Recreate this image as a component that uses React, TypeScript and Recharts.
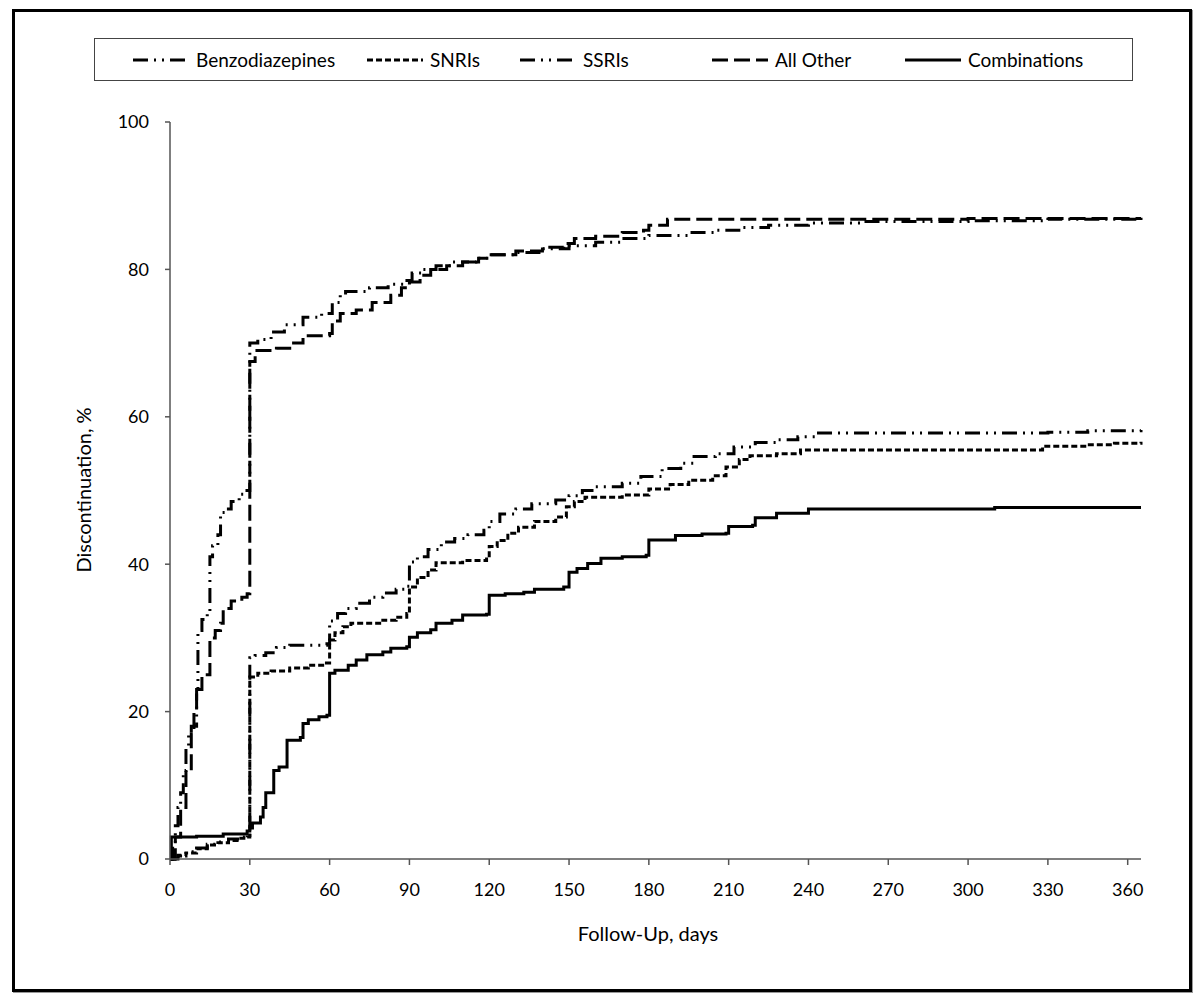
import React from "react";
import { LineChart, Line, XAxis, YAxis } from "recharts";

// follow-up days on x, % discontinued on y
const dayTicks = [0, 30, 60, 90, 120, 150, 180, 210, 240, 270, 300, 330, 360];
const pctTicks = [0, 20, 40, 60, 80, 100];

const benzodiazepines: [number, number][] = [
  [0, 0], [1, 2], [2, 4.5], [3, 7], [4, 9], [5, 12], [6, 15], [7, 17], [8, 18],
  [10, 23], [10.5, 31], [12, 32.5], [14, 33.5], [15, 41], [16, 42.5], [18, 44],
  [19, 47], [21, 47.5], [23, 48.5], [26, 49.5], [28, 50], [30, 70], [33, 70.5],
  [38, 71.5], [43, 72.5], [50, 73.5], [57, 74], [61, 75.5], [64, 76.5], [66, 77],
  [75, 77.5], [82, 78], [88, 78.5], [91, 79.5], [95, 80], [100, 80.5], [106, 81],
  [115, 81.5], [120, 82], [130, 82.3], [140, 82.8], [150, 83.2], [160, 83.7],
  [170, 84.2], [180, 84.6], [195, 85], [205, 85.3], [215, 85.7], [225, 86],
  [240, 86.3], [260, 86.5], [300, 86.6], [330, 86.8], [365, 86.9],
];

const snris: [number, number][] = [
  [0, 0], [3, 0.4], [6, 0.8], [10, 1.4], [14, 1.9], [18, 2.2], [22, 2.5], [26, 2.8],
  [29, 3], [30, 24.7], [33, 25.2], [38, 25.5], [45, 25.9], [52, 26.3], [58, 26.6],
  [60, 29.7], [62, 30.7], [65, 31.5], [68, 32], [80, 32.4], [85, 32.8], [89, 33.3],
  [90, 36.9], [93, 38.2], [97, 39.2], [100, 40.2], [110, 40.5], [119, 40.7],
  [120, 42.4], [123, 43.2], [127, 44.2], [131, 45], [137, 45.8], [145, 46.4],
  [149, 47.8], [152, 48.5], [156, 49.1], [170, 49.4], [180, 50.2], [188, 50.8],
  [195, 51.4], [204, 52], [209, 53.2], [214, 54.2], [218, 54.7], [228, 55],
  [237, 55.5], [326, 55.5], [328, 56], [345, 56.2], [355, 56.4], [365, 56.6],
];

const ssris: [number, number][] = [
  [0, 0], [3, 0.5], [6, 1], [10, 1.5], [14, 2], [18, 2.3], [22, 2.7], [26, 3],
  [29, 3.2], [30, 27.3], [32, 27.6], [36, 28], [40, 28.7], [45, 29], [59, 29.2],
  [60, 32.3], [63, 33.3], [66, 34], [70, 34.7], [75, 35.5], [80, 36.1], [85, 36.6],
  [89, 37], [90, 40.3], [93, 41], [97, 42], [102, 43], [107, 43.5], [112, 44],
  [118, 44.6], [120, 45.8], [124, 46.8], [130, 47.5], [136, 48.2], [145, 48.7],
  [150, 49.3], [155, 50], [160, 50.5], [170, 51], [177, 51.9], [185, 53],
  [192, 53.7], [197, 54.6], [205, 55], [212, 55.9], [220, 56.5], [228, 56.9],
  [236, 57.3], [243, 57.8], [330, 57.9], [345, 58.1], [365, 58.3],
];

const allOther: [number, number][] = [
  [0, 0], [2, 3], [4, 7], [6, 12], [8, 17], [9, 20], [10, 23], [12, 24.5], [14, 25],
  [15, 30], [17, 31], [19, 32], [20, 34], [23, 35], [27, 35.5], [29, 36], [30, 67.5],
  [32, 69], [40, 69.3], [45, 70], [50, 71], [60, 71.3], [61, 73], [64, 74], [70, 74.5],
  [76, 75.5], [83, 76.5], [87, 77.5], [90, 78.3], [94, 79.2], [98, 80], [104, 80.5],
  [110, 81], [116, 81.5], [120, 82], [130, 82.5], [140, 83], [148, 83.5], [152, 84.2],
  [160, 84.5], [170, 85], [178, 85.3], [180, 86], [187, 86.8], [250, 86.8],
  [300, 86.9], [365, 87],
];

const combinations: [number, number][] = [
  [0, 0], [0.5, 3], [10, 3.1], [20, 3.4], [29, 3.8], [30, 4.2], [31, 4.9], [34, 5.7],
  [35, 7], [36, 9], [39, 12], [41, 12.5], [44, 16.1], [49, 16.5], [50, 18.4],
  [52, 18.9], [56, 19.3], [59, 19.5], [60, 25.2], [62, 25.6], [67, 26.3], [70, 27],
  [74, 27.7], [80, 28.1], [83, 28.6], [89, 28.8], [90, 30.1], [93, 30.7], [98, 31.1],
  [100, 32], [106, 32.4], [110, 33.1], [119, 33.2], [120, 35.8], [126, 36],
  [133, 36.2], [137, 36.6], [148, 36.9], [150, 38.9], [153, 39.4], [157, 40.1],
  [162, 40.8], [170, 41], [179, 41.2], [180, 43.3], [190, 43.9], [200, 44.1],
  [209, 44.2], [210, 45.1], [219, 45.3], [220, 46.3], [228, 46.9], [240, 47.5],
  [310, 47.7], [365, 47.7],
];

const toPoints = (rows: [number, number][]) => rows.map(([day, pct]) => ({ day, pct }));

const DASH_DOT_DOT = "15 6 2 6 2 6";

const series = [
  { name: "Benzodiazepines", rows: benzodiazepines, dash: DASH_DOT_DOT },
  { name: "SNRIs", rows: snris, dash: "6 3" },
  { name: "SSRIs", rows: ssris, dash: DASH_DOT_DOT },
  { name: "All Other", rows: allOther, dash: "16 6" },
  { name: "Combinations", rows: combinations, dash: undefined },
];

// left edge of each legend sample, page px
const legendX = [133, 367, 520, 712, 905];

const FONT = "Lato, 'Open Sans', sans-serif";
const axisStroke = { stroke: "#555", strokeWidth: 1.5 };

export default function App() {
  return (
    <div style={{ position: "absolute", left: 0, top: 0, width: 1200, height: 1000, background: "#fff", fontFamily: FONT }}>
      <LineChart width={1200} height={1000} margin={{ top: 122, right: 59, bottom: 81, left: 110 }}>
        <XAxis
          type="number"
          dataKey="day"
          domain={[0, 365]}
          ticks={dayTicks}
          allowDuplicatedCategory={false}
          height={60}
          tickSize={6}
          tickMargin={18}
          axisLine={axisStroke}
          tickLine={axisStroke}
          tick={{ fill: "#000", fontSize: 18, fontFamily: FONT }}
        />
        <YAxis
          type="number"
          domain={[0, 100]}
          ticks={pctTicks}
          width={60}
          tickSize={5}
          tickMargin={16}
          axisLine={axisStroke}
          tickLine={axisStroke}
          tick={{ fill: "#000", fontSize: 18, fontFamily: FONT }}
        />
        {series.map((s) => (
          <Line
            key={s.name}
            data={toPoints(s.rows)}
            dataKey="pct"
            name={s.name}
            type="stepAfter"
            stroke="#000"
            strokeWidth={3}
            strokeDasharray={s.dash}
            dot={false}
            isAnimationActive={false}
          />
        ))}
      </LineChart>

      {/* outer frame */}
      <div style={{ position: "absolute", left: 12, top: 9, width: 1180, height: 983, border: "3px solid #000", boxSizing: "border-box", boxShadow: "1px 1px 0 #999" }} />

      {/* legend */}
      <div style={{ position: "absolute", left: 94, top: 38, width: 1039, height: 43, border: "1px solid #444", boxSizing: "border-box", background: "#fff" }}>
        {series.map((s, i) => (
          <div key={s.name} style={{ position: "absolute", left: legendX[i] - 95, top: 0, height: 41, display: "flex", alignItems: "center" }}>
            <svg width={56} height={8}>
              <line x1={0} y1={4} x2={56} y2={4} stroke="#000" strokeWidth={3} strokeDasharray={s.dash} />
            </svg>
            <span style={{ marginLeft: 7, fontSize: 19, color: "#000" }}>{s.name}</span>
          </div>
        ))}
      </div>

      {/* axis titles */}
      <div style={{ position: "absolute", left: 83, top: 490, transform: "translate(-50%, -50%) rotate(-90deg)", fontSize: 20, whiteSpace: "nowrap" }}>
        Discontinuation, %
      </div>
      <div style={{ position: "absolute", left: 648, top: 933, transform: "translate(-50%, -50%)", fontSize: 20, whiteSpace: "nowrap" }}>
        Follow-Up, days
      </div>
    </div>
  );
}
